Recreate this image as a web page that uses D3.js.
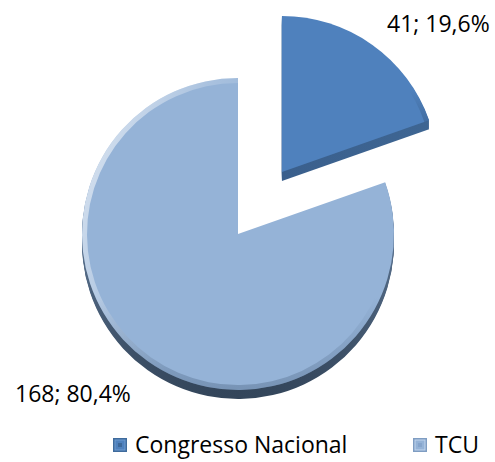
<!DOCTYPE html>
<html>
<head>
<meta charset="utf-8">
<script src="https://cdn.jsdelivr.net/npm/d3@7/dist/d3.min.js"></script>
<style>
  html, body { margin: 0; padding: 0; background: #fff; }
  svg { display: block; }
  text { font-family: "Open Sans", "Noto Sans", sans-serif; fill: #000; }
</style>
</head>
<body>
<svg id="chart" width="495" height="462"></svg>
<script>
// ---- data ----
const categories = ["Congresso Nacional", "TCU"];
const values = [41, 168];
const topColors = ["#4f81bd", "#95b3d7"];
const edgeTop = ["#46729f", "#7f9dc2"];
const edgeBottom = ["#3a5f8c", "#33455a"];
const explode = [76, 0];

// ---- layout ----
const W = 495, H = 462;
const cx = 238, cy = 234, R = 156, depth = 9;
const labelPos = [ {dx: 149, dy: -202}, {dx: -223, dy: 168} ];
const fontSize = 23;

const svg = d3.select("#chart");
const defs = svg.append("defs");
const total = d3.sum(values);

const pie = d3.pie().sort(null).value(d => d).startAngle(0).endAngle(2 * Math.PI);
const arcs = pie(values);
const arc = d3.arc().innerRadius(0).outerRadius(R);
const rim = d3.arc().innerRadius(R - 5).outerRadius(R);

function offset(d, i) {
  const a = (d.startAngle + d.endAngle) / 2;
  return [cx + explode[i] * Math.sin(a), cy - explode[i] * Math.cos(a)];
}

// gradients
arcs.forEach((d, i) => {
  const g = defs.append("linearGradient").attr("id", "edge" + i)
    .attr("x1", 0).attr("y1", 0).attr("x2", 0).attr("y2", 1);
  g.append("stop").attr("offset", "0%").attr("stop-color", edgeTop[i]);
  g.append("stop").attr("offset", "100%").attr("stop-color", edgeBottom[i]);
});
const hl = defs.append("linearGradient").attr("id", "hl")
  .attr("x1", 0).attr("y1", 0.3).attr("x2", 1).attr("y2", 0.7);
hl.append("stop").attr("offset", "0%").attr("stop-color", "#ffffff").attr("stop-opacity", 0.6);
hl.append("stop").attr("offset", "25%").attr("stop-color", "#ffffff").attr("stop-opacity", 0.2);
hl.append("stop").attr("offset", "45%").attr("stop-color", "#ffffff").attr("stop-opacity", 0);

const shade = defs.append("linearGradient").attr("id", "shade")
  .attr("x1", 0).attr("y1", 0).attr("x2", 0).attr("y2", 1);
shade.append("stop").attr("offset", "70%").attr("stop-color", "#1f3550").attr("stop-opacity", 0);
shade.append("stop").attr("offset", "100%").attr("stop-color", "#1f3550").attr("stop-opacity", 0.25);

const slices = svg.append("g");

// extrusion (3D side)
arcs.forEach((d, i) => {
  const [ox, oy] = offset(d, i);
  const g = slices.append("g");
  for (let k = depth; k >= 1; k--) {
    g.append("path")
      .attr("transform", `translate(${ox},${oy + k})`)
      .attr("d", arc(d))
      .attr("fill", `url(#edge${i})`);
  }
});

// top faces
arcs.forEach((d, i) => {
  const [ox, oy] = offset(d, i);
  const g = slices.append("g").attr("transform", `translate(${ox},${oy})`);
  g.append("path").attr("d", arc(d)).attr("fill", topColors[i]);
  if (i === 1) g.append("path").attr("d", rim(d)).attr("fill", "url(#hl)");
  g.append("path").attr("d", rim(d)).attr("fill", "url(#shade)");
});

// data labels
arcs.forEach((d, i) => {
  const pct = (d.data / total * 100).toFixed(1).replace(".", ",");
  svg.append("text")
    .attr("x", cx + labelPos[i].dx)
    .attr("y", cy + labelPos[i].dy)
    .attr("font-size", fontSize)
    .text(`${d.data}; ${pct}%`);
});

// legend
const legendX = [113, 413], legendY = 438, box = 14;
const boxOuter = ["#3f6b9c", "#7f9dc2"], boxRing = ["#6f9bd0", "#c2d6ee"], boxInner = ["#3d6899", "#86a5cc"];
categories.forEach((c, i) => {
  const g = svg.append("g").attr("transform", `translate(${legendX[i]},${legendY})`);
  g.append("rect").attr("width", box).attr("height", box).attr("fill", boxOuter[i]);
  g.append("rect").attr("x", 2).attr("y", 2).attr("width", box - 4).attr("height", box - 4)
    .attr("fill", topColors[i]).attr("stroke", boxRing[i]).attr("stroke-width", 1);
  g.append("rect").attr("x", 5).attr("y", 5).attr("width", box - 10).attr("height", box - 10)
    .attr("fill", boxInner[i]);
  g.append("text").attr("x", box + 8).attr("y", 14.5)
    .attr("font-size", fontSize).text(c);
});
</script>
</body>
</html>
